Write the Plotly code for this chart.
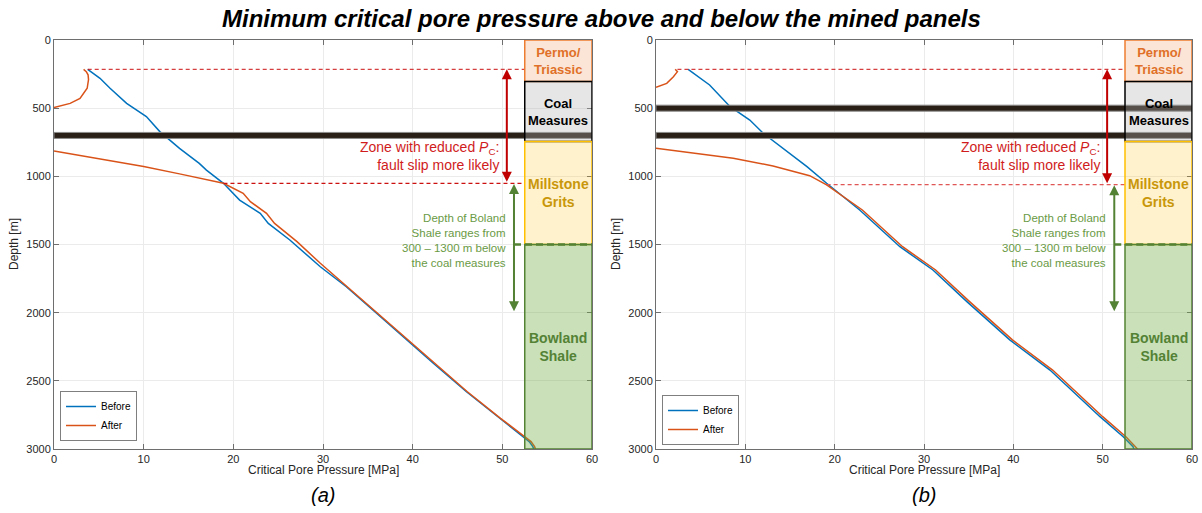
import plotly.graph_objects as go

# ---------------- data ----------------
# Panel (a)
blue_a_depth = [215, 281, 354, 465, 562, 672, 795, 905, 954, 1051, 1174, 1271, 1345, 1467,
                1663, 1810, 2005, 2200, 2371, 2580, 2775, 2910, 2946, 2983, 3000]
blue_a_mpa = [3.76, 5.13, 6.25, 8.1, 10.3, 11.8, 14.0, 16.2, 17.0, 18.9, 20.7, 23.0, 23.9, 26.3,
              29.7, 32.6, 36.0, 39.3, 42.3, 46.0, 49.7, 52.3, 53.0, 53.4, 53.5]
orange_a_depth = [496, 465, 428, 354, 290, 255, 232, 215, None,
                  814, 870, 928, 982, 1025, 1051, 1124, 1186, 1271, 1345, 1479, 1638, 1810,
                  2005, 2200, 2371, 2580, 2775, 2910, 2946, 2983, 3000]
orange_a_mpa = [0.0, 1.8, 2.9, 3.7, 3.85, 3.8, 3.6, 3.3, None,
                0.0, 5.0, 10.0, 14.0, 17.0, 18.9, 21.1, 21.9, 23.7, 24.6, 27.1, 29.7, 32.7,
                36.1, 39.4, 42.4, 46.1, 49.8, 52.4, 53.2, 53.6, 53.7]

# Panel (b)
blue_b_depth = [215, 330, 489, 587, 684, 794, 929, 1051, 1247, 1516, 1687, 1919, 2200, 2421,
                2763, 2910, 2983, 3000]
blue_b_mpa = [3.6, 6.0, 8.3, 10.5, 12.0, 14.25, 16.9, 19.1, 22.8, 27.3, 31.0, 34.8, 39.6, 44.1,
              49.7, 52.3, 53.4, 53.5]
orange_b_depth = [347, 318, 269, 232, 215, None,
                  794, 868, 924, 995, 1063, 1247, 1516, 1687, 1919, 2200, 2421, 2763, 2910, 2983, 3000]
orange_b_mpa = [0.0, 1.2, 1.95, 2.4, 2.15, None,
                0.0, 8.65, 13.1, 17.2, 19.1, 23.1, 27.6, 31.3, 35.1, 39.9, 44.4, 50.0, 52.6, 53.7, 53.9]

# strata column
strata_names = ["Permo/<br>Triassic", "Coal<br>Measures", "Millstone<br>Grits", "Bowland<br>Shale"]
strata_top = [0, 305, 745, 1500]
strata_bottom = [305, 745, 1500, 3000]
strata_fill = ["rgba(237,125,49,0.2)", "rgba(180,180,180,0.33)", "rgba(255,192,0,0.2)", "rgba(112,173,71,0.38)"]
strata_line = ["#ed7d31", "#000000", "#ffc000", "#548235"]
strata_text = ["#e07028", "#000000", "#c9970a", "#548235"]
strata_size = [13, 13, 14, 14]
column_x = [52.5, 60]

seams_a = [700]
seams_b = [500, 700]
zone_bottom_a = 1051
zone_bottom_b = 1061
boland_arrow_bottom = 2000

x_ticks = [0, 10, 20, 30, 40, 50, 60]
y_ticks = [0, 500, 1000, 1500, 2000, 2500, 3000]

BLUE = "#0072BD"
ORANGE = "#D95319"
RED = "#cc1010"
GREEN = "#548235"
FONT = "Liberation Sans"

fig = go.Figure()

fig.add_trace(go.Scatter(x=blue_a_mpa, y=blue_a_depth, mode="lines", name="Before",
                         line=dict(color=BLUE, width=1.5), xaxis="x", yaxis="y", legend="legend"))
fig.add_trace(go.Scatter(x=orange_a_mpa, y=orange_a_depth, mode="lines", name="After",
                         line=dict(color=ORANGE, width=1.5), xaxis="x", yaxis="y", legend="legend",
                         connectgaps=False))
fig.add_trace(go.Scatter(x=blue_b_mpa, y=blue_b_depth, mode="lines", name="Before",
                         line=dict(color=BLUE, width=1.5), xaxis="x2", yaxis="y2", legend="legend2"))
fig.add_trace(go.Scatter(x=orange_b_mpa, y=orange_b_depth, mode="lines", name="After",
                         line=dict(color=ORANGE, width=1.5), xaxis="x2", yaxis="y2", legend="legend2",
                         connectgaps=False))

H = 513.0
W = 1202.0
ydom = [1 - 449 / H, 1 - 40 / H]

axis_common = dict(showline=True, linecolor="#6e6e6e", linewidth=1, mirror="ticks",
                   ticks="inside", ticklen=5, tickcolor="#6e6e6e", showgrid=True,
                   gridcolor="#ebebeb", zeroline=False, automargin=False,
                   tickfont=dict(family=FONT, size=11, color="#262626"))

fig.update_layout(
    width=1202, height=513, margin=dict(l=0, r=0, t=0, b=0),
    paper_bgcolor="white", plot_bgcolor="white",
    font=dict(family=FONT),
    xaxis=dict(domain=[54 / W, 592 / W], anchor="y", range=[0, 60], tickvals=x_ticks, **axis_common),
    yaxis=dict(domain=ydom, anchor="x", range=[3000, 0], tickvals=y_ticks, **axis_common),
    xaxis2=dict(domain=[656 / W, 1192 / W], anchor="y2", range=[0, 60], tickvals=x_ticks, **axis_common),
    yaxis2=dict(domain=ydom, anchor="x2", range=[3000, 0], tickvals=y_ticks, **axis_common),
    legend=dict(x=60 / W, y=1 - 441 / H, xanchor="left", yanchor="bottom", bgcolor="white",
                bordercolor="#7f7f7f", borderwidth=1, font=dict(family=FONT, size=10, color="#000"),
                itemwidth=30, tracegroupgap=0),
    legend2=dict(x=662 / W, y=1 - 445 / H, xanchor="left", yanchor="bottom", bgcolor="white",
                 bordercolor="#7f7f7f", borderwidth=1, font=dict(family=FONT, size=10, color="#000"),
                 itemwidth=30, tracegroupgap=0),
    showlegend=True,
)


def decorate(xr, yr, seams, blue_mpa, blue_depth, dash_start1, dash_start2, zone_bottom, second_dash_color):
    # coal seams (mined panels)
    for s in seams:
        fig.add_shape(type="rect", xref=xr, yref=yr, x0=0, x1=60, y0=s - 22, y1=s + 22,
                      fillcolor="#2a1f16", line=dict(color="#8c8c8c", width=1), layer="above")
    # red dashed lines
    fig.add_shape(type="line", xref=xr, yref=yr, x0=dash_start1, x1=column_x[0],
                  y0=blue_depth[0], y1=blue_depth[0],
                  line=dict(color=RED, width=1, dash="4px,3px"), layer="above")
    fig.add_shape(type="line", xref=xr, yref=yr, x0=dash_start2, x1=column_x[0],
                  y0=zone_bottom, y1=zone_bottom,
                  line=dict(color=second_dash_color, width=1.3, dash="4px,3px"), layer="above")
    # strata column
    for i in range(len(strata_names)):
        fig.add_shape(type="rect", xref=xr, yref=yr, x0=column_x[0], x1=column_x[1],
                      y0=strata_top[i], y1=strata_bottom[i], fillcolor=strata_fill[i],
                      line=dict(color=strata_line[i], width=1.5), layer="above")
        fig.add_annotation(xref=xr, yref=yr, x=(column_x[0] + column_x[1]) / 2,
                           y=(strata_top[i] + strata_bottom[i]) / 2 if i < 3 else 2252,
                           text="<b>" + strata_names[i] + "</b>", showarrow=False,
                           font=dict(family=FONT, size=strata_size[i], color=strata_text[i]),
                           align="center")
    # dashed boundary Millstone / Bowland
    fig.add_shape(type="line", xref=xr, yref=yr, x0=51.3, x1=60, y0=strata_top[3], y1=strata_top[3],
                  line=dict(color=GREEN, width=2.5, dash="7px,4px"), layer="above")
    # red double arrow
    fig.add_annotation(xref=xr, yref=yr, axref=xr, ayref=yr, x=50.5, y=blue_depth[0], ax=50.5,
                       ay=zone_bottom, text="", showarrow=True, arrowhead=2, startarrowhead=2,
                       arrowside="end+start", arrowwidth=2, arrowsize=1, startarrowsize=1,
                       arrowcolor="#c00000", standoff=0, startstandoff=0)
    # green double arrow
    fig.add_annotation(xref=xr, yref=yr, axref=xr, ayref=yr, x=51.3, y=zone_bottom + 5, ax=51.3,
                       ay=boland_arrow_bottom, text="", showarrow=True, arrowhead=2, startarrowhead=2,
                       arrowside="end+start", arrowwidth=2, arrowsize=1, startarrowsize=1,
                       arrowcolor=GREEN, standoff=0, startstandoff=0)
    # texts
    fig.add_annotation(xref=xr, yref=yr, x=49.9, y=848, xanchor="right", yanchor="middle",
                       text="Zone with reduced <i>P</i><sub>C</sub>:<br>fault slip more likely",
                       showarrow=False, align="right",
                       font=dict(family=FONT, size=14, color="#d01c1c"))
    fig.add_annotation(xref=xr, yref=yr, x=50.6, y=1471, xanchor="right", yanchor="middle",
                       text="Depth of Boland<br>Shale ranges from<br>300 – 1300 m below<br>the coal measures",
                       showarrow=False, align="right",
                       font=dict(family=FONT, size=11.5, color="#6a9a45"))


decorate("x", "y", seams_a, blue_a_mpa, blue_a_depth, blue_a_mpa[0], 18.9, zone_bottom_a, RED)
decorate("x2", "y2", seams_b, blue_b_mpa, blue_b_depth, 2.4, 19.1, zone_bottom_b, "#e05555")

# titles and labels
fig.add_annotation(xref="paper", yref="paper", x=0.5, y=1 - 19 / H, xanchor="center", yanchor="middle",
                   text="<b><i>Minimum critical pore pressure above and below the mined panels</i></b>",
                   showarrow=False, font=dict(family=FONT, size=24, color="#000"))
for cx, lab in [((54 + 592) / 2 / W, "(a)"), ((656 + 1192) / 2 / W, "(b)")]:
    fig.add_annotation(xref="paper", yref="paper", x=cx, y=1 - 470 / H, xanchor="center", yanchor="middle",
                       text="Critical Pore Pressure [MPa]", showarrow=False,
                       font=dict(family=FONT, size=12, color="#262626"))
    fig.add_annotation(xref="paper", yref="paper", x=cx, y=1 - 495 / H, xanchor="center", yanchor="middle",
                       text="<i>" + lab + "</i>", showarrow=False,
                       font=dict(family=FONT, size=20, color="#000"))
for px in [14, 616]:
    fig.add_annotation(xref="paper", yref="paper", x=px / W, y=1 - 244 / H, xanchor="center", yanchor="middle",
                       text="Depth [m]", textangle=-90, showarrow=False,
                       font=dict(family=FONT, size=12, color="#262626"))

fig.write_html("out.html")
